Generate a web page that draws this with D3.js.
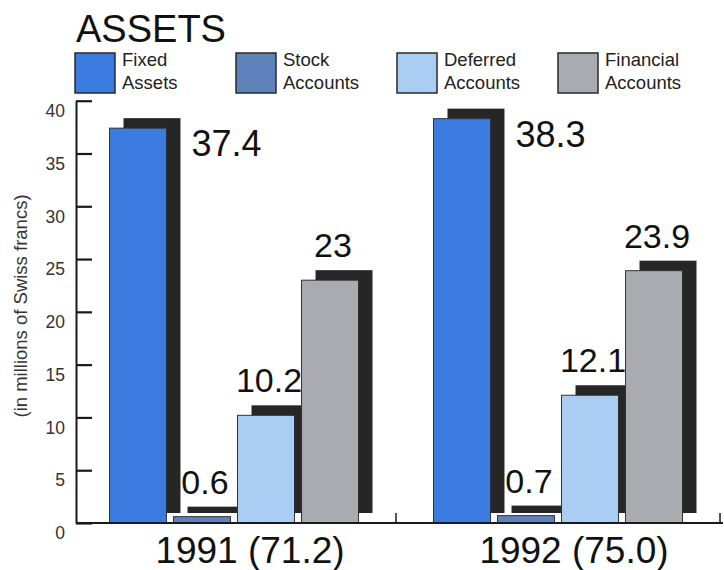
<!DOCTYPE html>
<html>
<head>
<meta charset="utf-8">
<script src="https://cdn.jsdelivr.net/npm/d3@7"></script>
<style>
  html, body { margin: 0; padding: 0; background: #fff; }
  svg { display: block; font-family: "Liberation Sans", Arial, Helvetica, sans-serif; }
</style>
</head>
<body>
<svg id="chart" width="724" height="570"></svg>
<script>
// Assets by year, in millions of Swiss francs
const years = ["1991", "1992"];
const yearLabels = ["1991 (71.2)", "1992 (75.0)"];
const series = ["Fixed Assets", "Stock Accounts", "Deferred Accounts", "Financial Accounts"];
const legendLines = [["Fixed", "Assets"], ["Stock", "Accounts"], ["Deferred", "Accounts"], ["Financial", "Accounts"]];
const fixedAssets = [37.4, 38.3];
const stockAccounts = [0.6, 0.7];
const deferredAccounts = [10.2, 12.1];
const financialAccounts = [23, 23.9];
const yTicks = [0, 5, 10, 15, 20, 25, 30, 35, 40];
const colors = ["#3b7ade", "#5e82ba", "#aacdf3", "#a9abb1"];

const values = [fixedAssets, stockAccounts, deferredAccounts, financialAccounts];
const rows = [];
years.forEach((yr, gi) => {
  series.forEach((s, si) => rows.push({ year: yr, series: s, si, value: values[si][gi] }));
});

const svg = d3.select("#chart");
const W = 724;
const axisX = 76;
const shadowDx = 14, shadowDy = 10;

const y = d3.scaleLinear().domain([0, 40]).range([523, 100.7]);
const x0 = d3.scaleBand().domain(years).range([72, 720]).padding(0);
const groupSpan = 249;
const x1 = d3.scaleBand().domain(series).range([0, groupSpan]).paddingInner(0.11).paddingOuter(0);
const barX = d => x0(d.year) + (x0.bandwidth() - groupSpan) / 2 + x1(d.series);

// Title
svg.append("text")
  .attr("x", 76).attr("y", 42)
  .attr("font-size", 38).attr("fill", "#111")
  .text("ASSETS");

// Legend
const legend = svg.append("g");
const lg = legend.selectAll("g").data(series).join("g")
  .attr("transform", (d, i) => `translate(${75 + i * 161},53)`);
lg.append("rect")
  .attr("width", 40).attr("height", 40)
  .attr("fill", (d, i) => colors[i])
  .attr("stroke", "#2a2a2a").attr("stroke-width", 1.5);
lg.append("text")
  .attr("font-size", 18.5).attr("fill", "#222")
  .selectAll("tspan").data((d, i) => legendLines[i]).join("tspan")
  .attr("x", 47).attr("y", (d, j) => 13 + j * 23)
  .text(d => d);

// Y axis
const yAxis = d3.axisLeft(y).tickValues(yTicks).tickSizeInner(-16).tickSizeOuter(0).tickPadding(11);
const yg = svg.append("g").attr("transform", `translate(${axisX},0)`).call(yAxis);
yg.select(".domain").attr("stroke", "#1a1a1a").attr("stroke-width", 2);
yg.selectAll(".tick line").attr("stroke", "#1a1a1a").attr("stroke-width", 2.2);
yg.selectAll(".tick text")
  .attr("font-size", 17.5).attr("fill", "#333")
  .attr("font-family", "Liberation Sans, Arial, sans-serif")
  .attr("dy", "0.9em");

svg.append("text")
  .attr("transform", "translate(22,306) rotate(-90)")
  .attr("text-anchor", "middle").attr("dominant-baseline", "middle")
  .attr("font-size", 18.5).attr("fill", "#333")
  .text("(in millions of Swiss francs)");

// Bars with offset drop shadows
const bars = svg.append("g");
const bg = bars.selectAll("g").data(rows).join("g");
bg.append("rect")
  .attr("x", d => barX(d) + shadowDx)
  .attr("y", d => y(d.value) - shadowDy)
  .attr("width", x1.bandwidth())
  .attr("height", d => y(0) - y(d.value))
  .attr("fill", "#262626");
bg.append("rect")
  .attr("x", barX)
  .attr("y", d => y(d.value))
  .attr("width", x1.bandwidth())
  .attr("height", d => y(0) - y(d.value))
  .attr("fill", d => colors[d.si])
  .attr("stroke", "#333").attr("stroke-width", 1);

// Value labels
svg.append("g").selectAll("text").data(rows).join("text")
  .attr("fill", "#111")
  .attr("font-size", d => d.si === 0 ? 36 : 34)
  .attr("text-anchor", d => d.si === 0 ? "start" : "middle")
  .attr("x", d => d.si === 0 ? barX(d) + x1.bandwidth() + 25 : barX(d) + x1.bandwidth() / 2 + 3)
  .attr("y", d => d.si === 0 ? y(d.value) + 28 : y(d.value) - shadowDy - 13)
  .text(d => String(d.value));

// X axis baseline with group boundary ticks
svg.append("line")
  .attr("x1", axisX).attr("x2", W - 1)
  .attr("y1", y(0)).attr("y2", y(0))
  .attr("stroke", "#1a1a1a").attr("stroke-width", 2);
svg.append("g").selectAll("line").data(years).join("line")
  .attr("x1", d => x0(d) + x0.step()).attr("x2", d => x0(d) + x0.step())
  .attr("y1", y(0)).attr("y2", y(0) - 10)
  .attr("stroke", "#1a1a1a").attr("stroke-width", 1.5);

svg.append("g").selectAll("text").data(years).join("text")
  .attr("x", d => x0(d) + x0.bandwidth() / 2 + 16)
  .attr("y", 563)
  .attr("text-anchor", "middle")
  .attr("font-size", 37).attr("fill", "#111")
  .text((d, i) => yearLabels[i]);
</script>
</body>
</html>
